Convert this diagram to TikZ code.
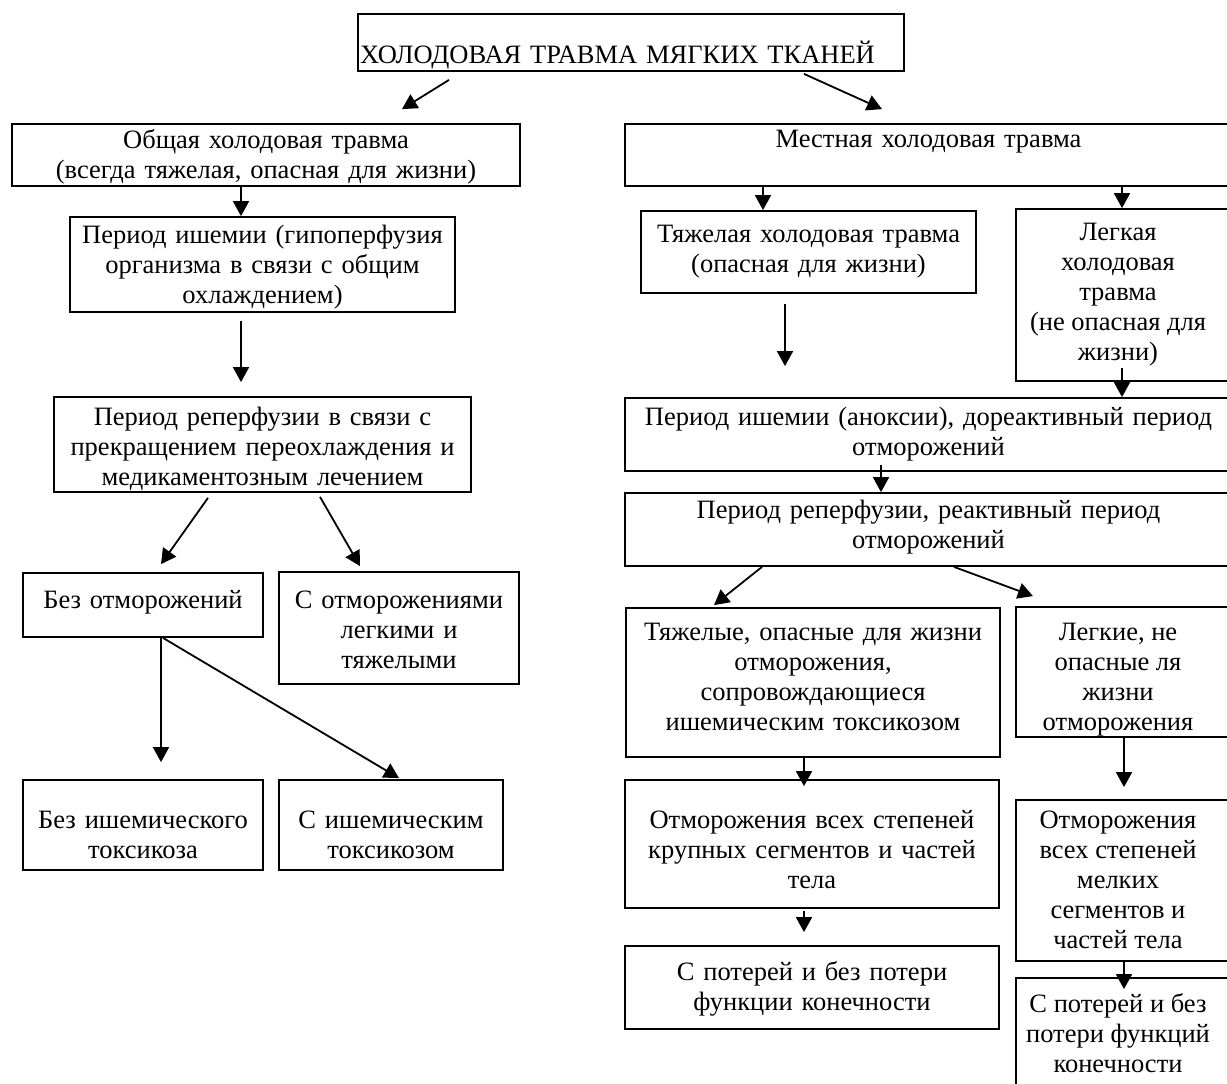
\documentclass[tikz,border=0pt]{standalone}
\usepackage{fontspec}
\setmainfont{Liberation Serif}
\usetikzlibrary{arrows.meta}
\usetikzlibrary{calc}

% text centred left of a box that runs off the page
\newcommand{\cutbox}[1]{\makebox[224pt][l]{\makebox[204pt]{\begin{tabular}[t]{@{}c@{}}#1\end{tabular}}}}

\begin{document}
\begin{tikzpicture}[x=1pt, y=-1pt, font=\fontsize{26.5}{30}\selectfont,
box/.style={draw, line width=1.8pt, inner sep=0pt, align=center},
txtup/.style={text height=0pt, text depth=#1},
txtdown/.style={text height=#1, text depth=0pt},
arr/.style={line width=1.8pt, -{Triangle[length=15pt, width=16pt]}}]
\useasboundingbox (0,0) rectangle (1227,1084);
\clip (0,0) rectangle (1227,1084);

\node[box, minimum height=57pt, text width=542pt, inner xsep=2pt,
align=left, txtdown=41pt] (root) at (631,42.5) {ХОЛОДОВАЯ ТРАВМА МЯГКИХ ТКАНЕЙ};

% left column
\node[box, text width=508pt, minimum height=62pt, txtup=14pt] (obsh) at (266,155)
{Общая холодовая травма\\(всегда тяжелая, опасная для жизни)};
\node[box, text width=385pt, minimum height=95pt, txtup=43pt] (ish1) at (262.5,264.5)
{Период ишемии (гипоперфузия\\организма в связи с общим\\охлаждением)};
\node[box, text width=417pt, minimum height=95pt, txtup=39pt] (rep1) at (262.5,444.5)
{Период реперфузии в связи с\\прекращением переохлаждения и\\медикаментозным лечением};
\node[box, text width=240pt, minimum height=64pt, txtdown=6pt] (bez) at (143,605)
{Без отморожений};
\node[box, text width=240pt, minimum height=112pt, txtup=40pt] (sotm) at (399,628)
{С отморожениями\\легкими и\\тяжелыми};
\node[box, text width=240pt, minimum height=90pt, txtdown=6pt] (beztox) at (143,825)
{Без ишемического\\токсикоза};
\node[box, text width=224pt, minimum height=90pt, txtdown=6pt] (stox) at (391,825)
{С ишемическим\\токсикозом};

% right column
\node[box, text width=607pt, minimum height=62pt, txtup=16pt] (mest) at (928.5,155)
{Местная холодовая травма};
\node[box, text width=335pt, minimum height=82pt, txtup=20pt] (tyazh) at (808.5,252)
{Тяжелая холодовая травма\\(опасная для жизни)};
\node[box, minimum height=172pt, txtup=110pt] (legk) at (1128,295)
{\cutbox{Легкая\\холодовая\\травма\\(не опасная для\\жизни)}};
\node[box, text width=607pt, minimum height=73pt, txtup=19pt] (ish2) at (928.5,434.5)
{Период ишемии (аноксии), дореактивный период\\отморожений};
\node[box, text width=607pt, minimum height=73pt, txtup=23pt] (rep2) at (928.5,529.5)
{Период реперфузии, реактивный период\\отморожений};
\node[box, text width=374pt, minimum height=149pt, txtup=85pt] (tox) at (813,682.5)
{Тяжелые, опасные для жизни\\отморожения,\\сопровождающиеся\\ишемическим токсикозом};
\node[box, minimum height=130pt, txtup=64pt] (leg2) at (1128,672)
{\cutbox{Легкие, не\\опасные ля\\жизни\\отморожения}};
\node[box, text width=374pt, minimum height=128pt, txtup=32pt] (krup) at (812,844)
{Отморожения всех степеней\\крупных сегментов и частей\\тела};
\node[box, minimum height=161pt, txtup=105pt] (melk) at (1128,880.5)
{\cutbox{Отморожения\\всех степеней\\мелких\\сегментов и\\частей тела}};
\node[box, text width=374pt, minimum height=83pt, txtup=15pt] (pot1) at (812,987.5)
{С потерей и без потери\\функции конечности};
\node[box, minimum height=117pt, txtup=49pt] (pot2) at (1128,1036.5)
{\cutbox{С потерей и без\\потери функций\\конечности}};

% arrows
\draw[arr] ($(root.south)+(-182,8)$) -- ($(obsh.north)+(136,-14)$);
\draw[arr] ($(root.south)+(173,2)$) -- ($(mest.north)+(-46.5,-14)$);
\draw[arr] ($(obsh.south)+(-25,0)$) -- ($(ish1.north)+(-21.5,0)$);
\draw[arr] ($(ish1.south)+(-21.5,8)$) -- ($(rep1.north)+(-21.5,-14)$);
\draw[arr] ($(rep1.south)+(-54.5,5)$) -- ($(bez.north)+(18,-8)$);
\draw[arr] ($(rep1.south)+(57.5,4)$) -- ($(sotm.north)+(-39,-5)$);
\draw[arr] ($(bez.south)+(18,0)$) -- ($(beztox.north)+(18,-17)$);
\draw[arr] ($(bez.south)+(20,0)$) -- ($(stox.north)+(8,-1)$);
\draw[arr] ($(mest.south)+(-165.5,0)$) -- ($(tyazh.north)+(-45.5,0)$);
\draw[arr] ($(mest.south)+(193.5,0)$) -- ($(legk.north)+(-6,0)$);
\draw[arr] ($(tyazh.south)+(-23.5,10)$) -- ($(ish2.north)+(-143.5,-31)$);
\draw[arr] ($(legk.south)+(-6,-14)$) -- ($(ish2.north)+(193.5,0)$);
\draw[arr] ($(ish2.south)+(-47.5,-7)$) -- ($(rep2.north)+(-47.5,0)$);
\draw[arr] ($(rep2.south)+(-166.5,0)$) -- ($(tox.north)+(-99,-2)$);
\draw[arr] ($(rep2.south)+(25.5,0)$) -- ($(leg2.north)+(-95,-10)$);
\draw[arr] ($(tox.south)+(-9,0)$) -- ($(krup.north)+(-8,7)$);
\draw[arr] ($(leg2.south)+(-4,0)$) -- ($(melk.north)+(-4,-12)$);
\draw[arr] ($(krup.south)+(-8,2)$) -- ($(pot1.north)+(-8,-13)$);
\draw[arr] ($(melk.south)+(-4,0)$) -- ($(pot2.north)+(-4,12)$);
\end{tikzpicture}
\end{document}
